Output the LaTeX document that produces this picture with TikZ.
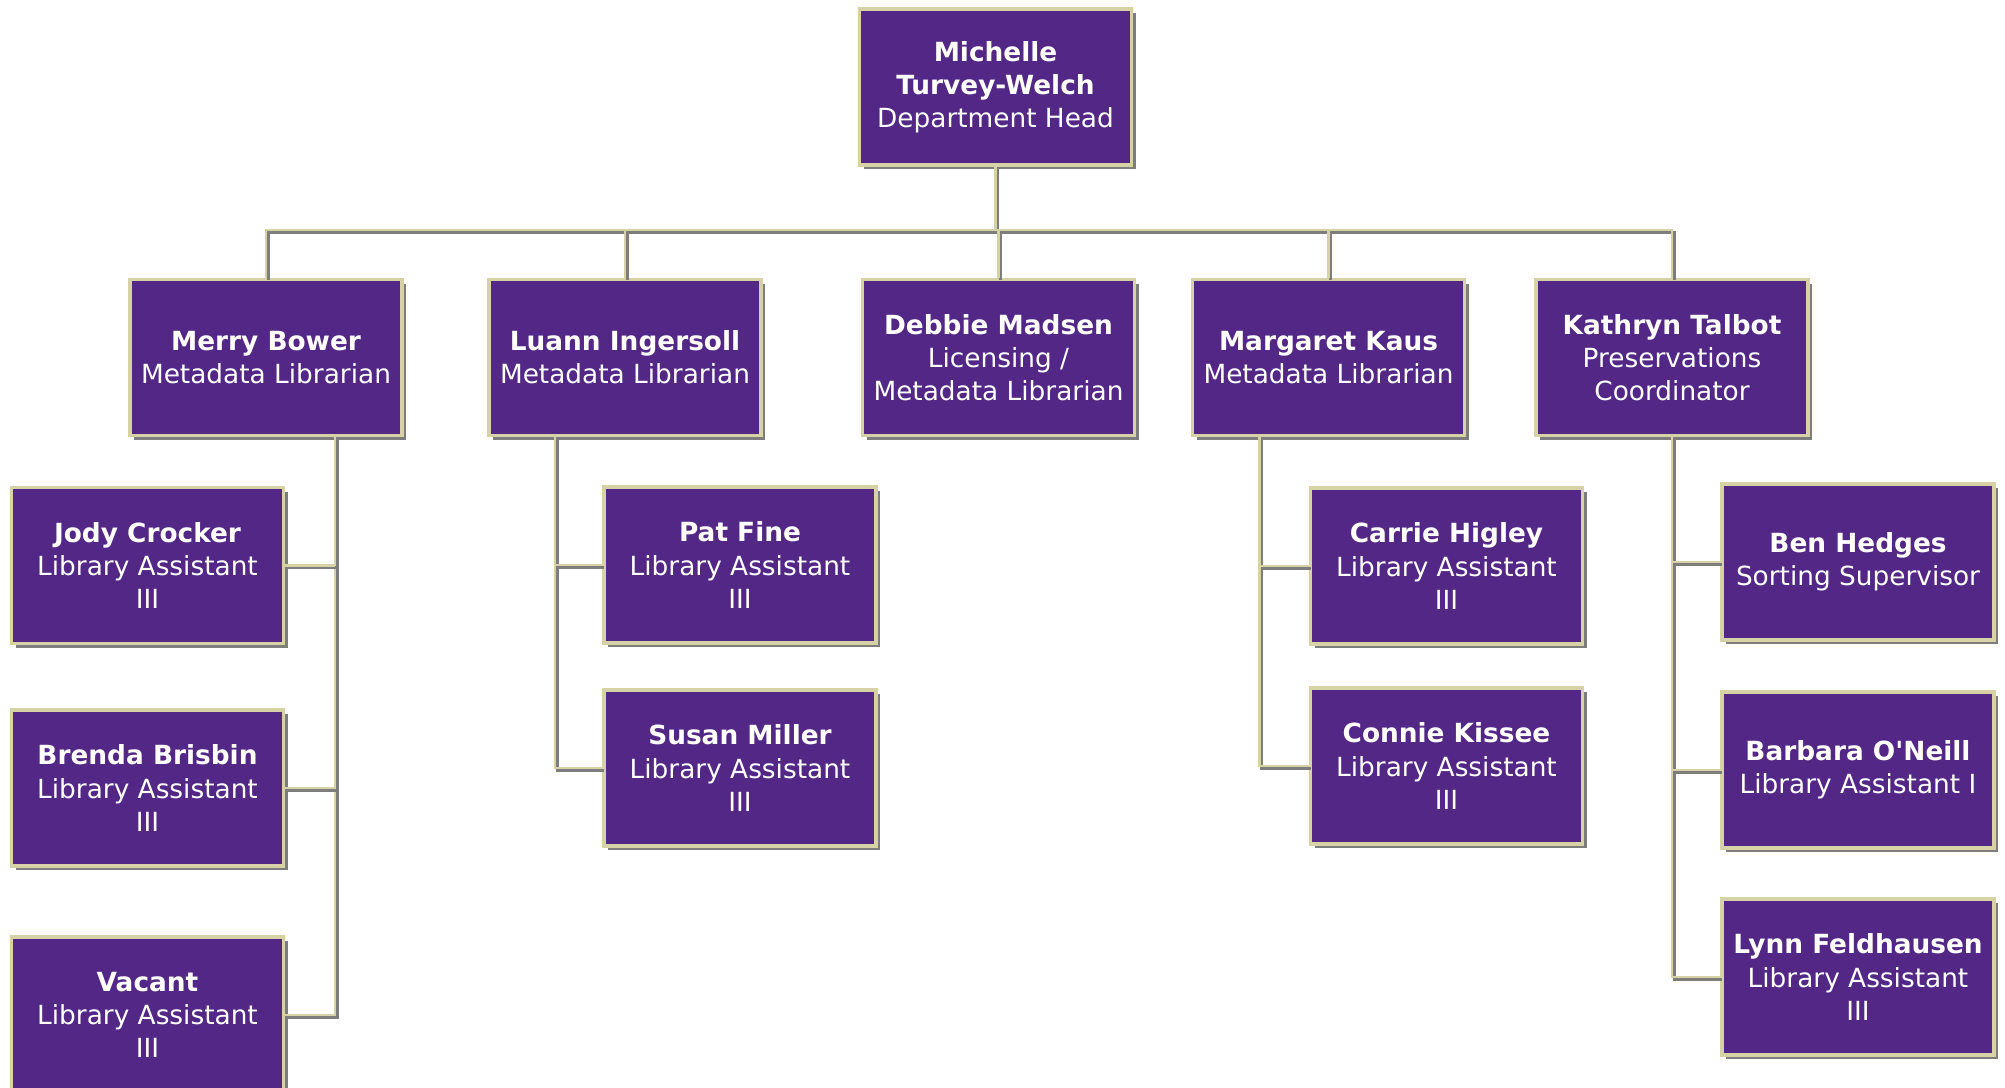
\documentclass[tikz,border=0pt]{standalone}
\usepackage{fontspec}
\setmainfont{DejaVu Sans}
\usetikzlibrary{shadows, positioning}
\definecolor{purp}{RGB}{82,39,133}
\definecolor{rulec}{RGB}{214,210,166}
\definecolor{shadec}{RGB}{125,125,125}
\tikzstyle{staff} = [draw=rulec, line width=1.1pt, fill=purp, text=white, rectangle, align=center, minimum width=2.72cm, minimum height=1.56cm, inner sep=1pt, font=\fontsize{7.5}{9.4}\selectfont, drop shadow={shadow xshift=1.2pt, shadow yshift=-1.2pt, fill=shadec, opacity=1}]
\tikzstyle{link} = [draw=rulec, line width=0.8pt, preaction={draw=shadec, line width=0.8pt, transform canvas={shift={(0.6pt,-0.6pt)}}}]
\newcommand{\person}[2]{\textbf{#1}\\#2}

\begin{document}
\begin{tikzpicture}[auto]
  \useasboundingbox (0,0) rectangle (20.05,-10.88);
  \node[staff] (head) at (9.955,-0.87) {\textbf{Michelle}\\\person{Turvey-Welch}{Department Head}};
  \node[staff] (debbie) at (9.985,-3.575) {\person{Debbie Madsen}{Licensing /\\Metadata Librarian}};
  \node[staff, left of=debbie, node distance=3.735cm] (luann) {\person{Luann Ingersoll}{Metadata Librarian}};
  \node[staff, left of=luann, node distance=3.59cm] (merry) {\person{Merry Bower}{Metadata Librarian}};
  \node[staff, right of=debbie, node distance=3.30cm] (margaret) {\person{Margaret Kaus}{Metadata Librarian}};
  \node[staff, right of=margaret, node distance=3.435cm] (kathryn) {\person{Kathryn Talbot}{Preservations\\Coordinator}};
  % merry's team
  \node[staff, below of=merry, node distance=2.08cm, xshift=-1.185cm] (jody) {\person{Jody Crocker}{Library Assistant\\III}};
  \node[staff, below of=jody, node distance=2.225cm] (brenda) {\person{Brenda Brisbin}{Library Assistant\\III}};
  \node[staff, below of=brenda, node distance=2.27cm] (vacant) {\person{Vacant}{Library Assistant\\III}};
  % luann's team
  \node[staff, below of=luann, node distance=2.075cm, xshift=1.15cm] (pat) {\person{Pat Fine}{Library Assistant\\III}};
  \node[staff, below of=pat, node distance=2.03cm] (susan) {\person{Susan Miller}{Library Assistant\\III}};
  % margaret's team
  \node[staff, below of=margaret, node distance=2.085cm, xshift=1.18cm] (carrie) {\person{Carrie Higley}{Library Assistant\\III}};
  \node[staff, below of=carrie, node distance=2.0cm] (connie) {\person{Connie Kissee}{Library Assistant\\III}};
  % kathryn's team
  \node[staff, below of=kathryn, node distance=2.045cm, xshift=1.86cm] (ben) {\person{Ben Hedges}{Sorting Supervisor}};
  \node[staff, below of=ben, node distance=2.08cm] (barbara) {\person{Barbara O\textquotesingle Neill}{Library Assistant I}};
  \node[staff, below of=barbara, node distance=2.07cm] (lynn) {\person{Lynn Feldhausen}{Library Assistant\\III}};
  % connectors
  \coordinate (bar) at (0,-2.30);
  \coordinate (mt) at ([xshift=0.69cm]merry.south);
  \coordinate (lt) at ([xshift=-0.70cm]luann.south);
  \coordinate (gt) at ([xshift=-0.69cm]margaret.south);
  \draw[link] (head.south) -- (head.south |- bar);
  \draw[link] (merry.north) -- (merry.north |- bar) -| (kathryn.north);
  \draw[link] (luann.north) -- (luann.north |- bar);
  \draw[link] (debbie.north) -- (debbie.north |- bar);
  \draw[link] (margaret.north) -- (margaret.north |- bar);
  \draw[link] (mt) |- (vacant.east);
  \draw[link] (jody.east) -- (jody.east -| mt);
  \draw[link] (brenda.east) -- (brenda.east -| mt);
  \draw[link] (lt) |- (susan.west);
  \draw[link] (pat.west) -- (pat.west -| lt);
  \draw[link] (gt) |- (connie.west);
  \draw[link] (carrie.west) -- (carrie.west -| gt);
  \draw[link] (kathryn.south) |- (lynn.west);
  \draw[link] (ben.west) -- (ben.west -| kathryn.south);
  \draw[link] (barbara.west) -- (barbara.west -| kathryn.south);
\end{tikzpicture}
\end{document}
